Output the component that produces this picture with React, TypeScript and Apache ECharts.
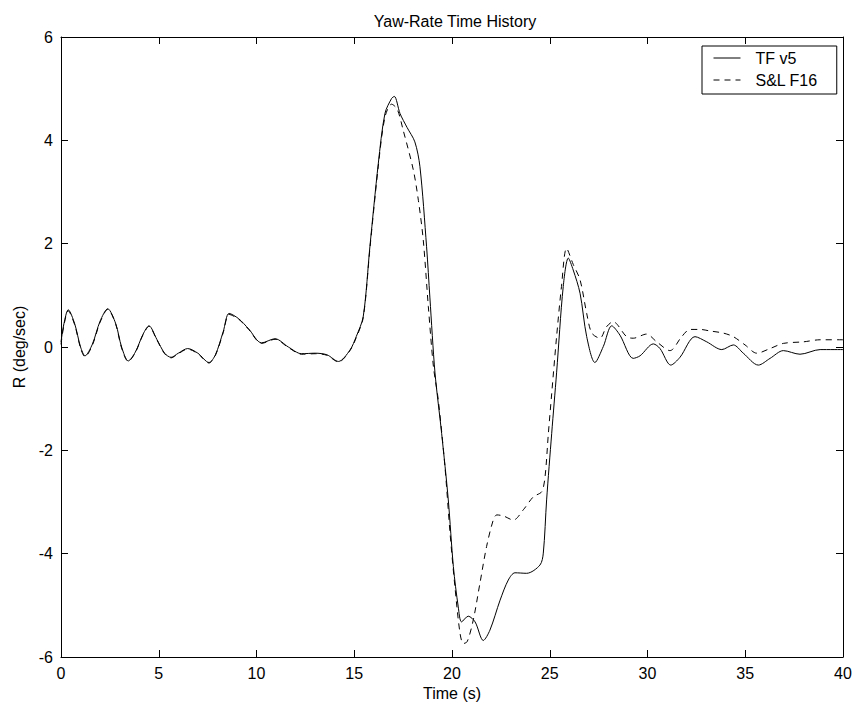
import React, { useEffect, useRef } from "react";
import * as echarts from "echarts";

const titleText = "Yaw-Rate Time History";
const xName = "Time (s)";
const yName = "R (deg/sec)";
const seriesNames = ["TF v5", "S&L F16"];

const tTF = [0, 0.15, 0.37, 0.7, 1.0, 1.23, 1.6, 2.0, 2.39, 2.8, 3.1, 3.44, 3.8, 4.2, 4.5, 4.9, 5.3, 5.63, 6.0, 6.48, 7.0, 7.57, 7.9, 8.3, 8.6, 9.08, 9.6, 10.26, 10.95, 11.63, 12.3, 13.0, 13.6, 14.19, 14.78, 15.1, 15.46, 15.8, 16.23, 16.57, 16.91, 17.05, 17.34, 17.7, 18.1, 18.36, 18.7, 18.87, 19.13, 19.47, 19.81, 20.07, 20.32, 20.49, 20.83, 21.18, 21.6, 21.94, 22.46, 22.88, 23.22, 23.82, 24.5, 24.67, 24.84, 25.1, 25.35, 25.69, 25.95, 26.2, 26.55, 26.89, 27.31, 27.74, 28.17, 28.59, 29.27, 29.62, 30.3, 30.64, 31.19, 31.66, 32.43, 33.03, 33.8, 34.39, 34.9, 35.67, 36.27, 36.95, 37.8, 38.83, 40];
const rTF = [0.1, 0.45, 0.72, 0.45, 0.0, -0.17, 0.05, 0.5, 0.74, 0.45, 0.0, -0.27, -0.1, 0.25, 0.41, 0.15, -0.12, -0.2, -0.12, -0.03, -0.12, -0.3, -0.15, 0.3, 0.65, 0.55, 0.35, 0.08, 0.16, 0.0, -0.13, -0.12, -0.15, -0.28, -0.06, 0.2, 0.59, 1.94, 3.55, 4.52, 4.81, 4.85, 4.52, 4.25, 3.97, 3.49, 1.94, 0.95, -0.5, -1.67, -2.96, -4.25, -5.03, -5.32, -5.21, -5.32, -5.68, -5.48, -4.9, -4.51, -4.37, -4.38, -4.22, -3.99, -2.96, -1.67, -0.5, 1.17, 1.72, 1.49, 1.04, 0.2, -0.3, 0.01, 0.41, 0.23, -0.22, -0.17, 0.06, -0.03, -0.35, -0.2, 0.2, 0.1, -0.05, 0.04, -0.12, -0.35, -0.22, -0.07, -0.14, -0.05, -0.05];

const tSL = [0, 0.15, 0.37, 0.7, 1.0, 1.23, 1.6, 2.0, 2.39, 2.8, 3.1, 3.44, 3.8, 4.2, 4.5, 4.9, 5.3, 5.63, 6.0, 6.48, 7.0, 7.57, 7.9, 8.3, 8.6, 9.08, 9.6, 10.26, 10.95, 11.63, 12.3, 13.0, 13.6, 14.19, 14.78, 15.1, 15.46, 15.8, 16.23, 16.57, 16.91, 17.2, 17.5, 18.02, 18.28, 18.53, 18.79, 19.05, 19.3, 19.64, 19.9, 20.15, 20.41, 20.58, 20.78, 21.09, 21.43, 21.77, 22.11, 22.29, 22.63, 23.14, 23.65, 24.16, 24.59, 24.76, 24.93, 25.1, 25.35, 25.6, 25.86, 26.2, 26.55, 26.89, 27.15, 27.57, 27.9, 28.24, 28.93, 29.27, 29.95, 30.47, 31.15, 31.75, 32.17, 32.69, 33.2, 33.87, 34.39, 34.99, 35.59, 36.27, 36.95, 37.98, 38.83, 40];
const rSL = [0.05, 0.42, 0.7, 0.43, -0.02, -0.19, 0.03, 0.48, 0.73, 0.44, -0.02, -0.28, -0.11, 0.24, 0.4, 0.14, -0.13, -0.21, -0.13, -0.04, -0.13, -0.31, -0.16, 0.28, 0.63, 0.54, 0.34, 0.07, 0.15, -0.01, -0.14, -0.13, -0.16, -0.29, -0.07, 0.18, 0.57, 1.9, 3.5, 4.45, 4.7, 4.6, 4.2, 3.43, 2.84, 2.07, 0.78, -0.38, -1.03, -2.32, -3.6, -4.64, -5.54, -5.74, -5.7, -5.28, -4.57, -3.86, -3.35, -3.25, -3.27, -3.35, -3.15, -2.9, -2.8, -2.51, -1.67, -0.9, 0.2, 1.17, 1.91, 1.6, 1.3, 0.65, 0.27, 0.17, 0.39, 0.49, 0.2, 0.17, 0.25, 0.1, -0.07, 0.2, 0.34, 0.34, 0.31, 0.27, 0.2, 0.04, -0.12, -0.03, 0.07, 0.1, 0.14, 0.14];

const FONT = "Liberation Sans, Arial, sans-serif";

export default function App() {
  const ref = useRef<HTMLDivElement>(null);
  useEffect(() => {
    if (!ref.current) return;
    const chart = echarts.init(ref.current, null, { renderer: "svg" });
    const tfData = tTF.map((t, i) => [t, rTF[i]]);
    const slData = tSL.map((t, i) => [t, rSL[i]]);
    const axisCommon = {
      axisLine: { show: true, onZero: false, lineStyle: { color: "#000", width: 1 } },
      axisTick: { show: true, inside: true, length: 7, lineStyle: { color: "#000" } },
      splitLine: { show: false },
    };
    chart.setOption({
      animation: false,
      backgroundColor: "#fff",
      title: {
        text: titleText,
        left: 450,
        textAlign: "center",
        top: 8,
        textStyle: { fontFamily: FONT, fontSize: 16, fontWeight: "normal", color: "#000" },
      },
      legend: {
        orient: "vertical",
        left: 702,
        top: 46,
        padding: [4, 19, 6, 11],
        itemGap: 6,
        itemWidth: 27,
        itemHeight: 14,
        borderColor: "#000",
        borderWidth: 1,
        backgroundColor: "#fff",
        itemStyle: { opacity: 0 },
        lineStyle: { width: 1 },
        textStyle: { fontFamily: FONT, fontSize: 16, lineHeight: 16, color: "#000", padding: [0, 0, 0, 10] },
        data: seriesNames,
      },
      grid: { left: 61, right: 12, top: 37, bottom: 52, containLabel: false },
      xAxis: [
        {
          type: "value",
          min: 0,
          max: 40,
          interval: 5,
          name: xName,
          nameLocation: "middle",
          nameGap: 28,
          nameTextStyle: { fontFamily: FONT, fontSize: 16, color: "#000" },
          axisLabel: { fontFamily: FONT, fontSize: 16, color: "#000", margin: 8 },
          ...axisCommon,
        },
        {
          type: "value",
          position: "top",
          min: 0,
          max: 40,
          interval: 5,
          axisLabel: { show: false },
          ...axisCommon,
        },
      ],
      yAxis: [
        {
          type: "value",
          min: -6,
          max: 6,
          interval: 2,
          name: yName,
          nameLocation: "middle",
          nameGap: 27,
          nameRotate: 90,
          nameTextStyle: { fontFamily: FONT, fontSize: 16, color: "#000" },
          axisLabel: { fontFamily: FONT, fontSize: 16, color: "#000", margin: 8 },
          ...axisCommon,
        },
        {
          type: "value",
          position: "right",
          min: -6,
          max: 6,
          interval: 2,
          axisLabel: { show: false },
          ...axisCommon,
        },
      ],
      series: [
        {
          name: seriesNames[0],
          type: "line",
          data: tfData,
          showSymbol: false,
          symbol: "none",
          smooth: 0.3,
          lineStyle: { color: "#000", width: 1, type: "solid" },
          itemStyle: { color: "#000" },
        },
        {
          name: seriesNames[1],
          type: "line",
          data: slData,
          showSymbol: false,
          symbol: "none",
          smooth: 0.3,
          lineStyle: { color: "#000", width: 1, type: [6, 5] },
          itemStyle: { color: "#000" },
        },
      ],
    });
    return () => chart.dispose();
  }, []);
  return <div ref={ref} style={{ width: 855, height: 709, position: "absolute", left: 0, top: 0 }} />;
}
